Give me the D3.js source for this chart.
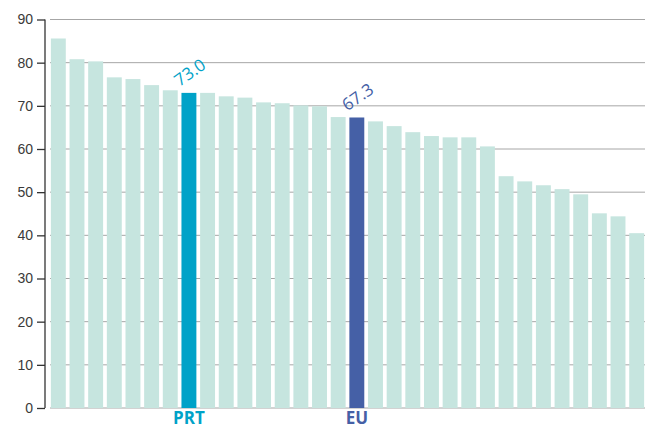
<!DOCTYPE html>
<html>
<head>
<meta charset="utf-8">
<script src="https://cdn.jsdelivr.net/npm/d3@7"></script>
<style>
  body { margin: 0; background: #fff; }
  svg { display: block; font-family: "Open Sans", "Noto Sans", sans-serif; }
</style>
</head>
<body>
<div id="chart"></div>
<script>
const countries = [
  "c1", "c2", "c3", "c4", "c5", "c6", "c7", "PRT", "c9", "c10", "c11", "c12", "c13", "c14", "c15", "c16",
  "EU", "c18", "c19", "c20", "c21", "c22", "c23", "c24", "c25", "c26", "c27", "c28", "c29", "c30", "c31", "c32"
];
const values = [
  85.6, 80.8, 80.3, 76.6, 76.2, 74.8, 73.6, 73.0, 73.0, 72.2, 71.9, 70.8, 70.6, 70.1, 69.9, 67.4,
  67.3, 66.4, 65.3, 63.9, 63.0, 62.7, 62.7, 60.6, 53.7, 52.5, 51.6, 50.7, 49.5, 45.1, 44.4, 40.5
];
const yTicks = [0, 10, 20, 30, 40, 50, 60, 70, 80, 90];
const highlights = { PRT: "#00a2c8", EU: "#4560a6" };
const baseColor = "#c6e5df";

const width = 648, height = 430;
const svg = d3.select("#chart").append("svg").attr("width", width).attr("height", height);

const x = d3.scaleBand().domain(countries).range([49, 646]).paddingInner(0.2).paddingOuter(0.1);
const y = d3.scaleLinear().domain([0, 90]).range([408, 19.5]);

// gridlines
svg.append("g").selectAll("line").data(yTicks).join("line")
  .attr("x1", 50).attr("x2", 645)
  .attr("y1", d => y(d)).attr("y2", d => y(d))
  .attr("stroke", "#a6a6a6").attr("stroke-width", 1);

// bars
svg.append("g").selectAll("rect").data(countries).join("rect")
  .attr("x", d => x(d))
  .attr("width", x.bandwidth())
  .attr("y", (d, i) => y(values[i]))
  .attr("height", (d, i) => y(0) - y(values[i]))
  .attr("fill", d => highlights[d] || baseColor);

// y axis
const yAxis = svg.append("g").attr("transform", "translate(45,0)")
  .call(d3.axisLeft(y).tickValues(yTicks).tickSize(8).tickPadding(4));
yAxis.select(".domain").attr("stroke", "#333").attr("stroke-width", 1.3).attr("d", `M0,${y(0)}V${y(90)}`);
yAxis.selectAll(".tick line").attr("stroke", "#333").attr("stroke-width", 1.3);
yAxis.selectAll(".tick text").attr("fill", "#3a3a3a").style("font-size", "14px");

// highlight labels
const hl = Object.keys(highlights);
svg.append("g").selectAll("text").data(hl).join("text")
  .attr("transform", d => `translate(${x(d) - 2},${y(values[countries.indexOf(d)]) - 6}) rotate(-35)`)
  .attr("fill", d => highlights[d])
  .style("font-size", "17px")
  .text(d => values[countries.indexOf(d)].toFixed(1));

svg.append("g").selectAll("text").data(hl).join("text")
  .attr("x", d => x(d) + x.bandwidth() / 2)
  .attr("y", 424)
  .attr("text-anchor", "middle")
  .attr("fill", d => highlights[d])
  .style("font-size", "17px")
  .style("font-weight", "bold")
  .text(d => d);
</script>
</body>
</html>
